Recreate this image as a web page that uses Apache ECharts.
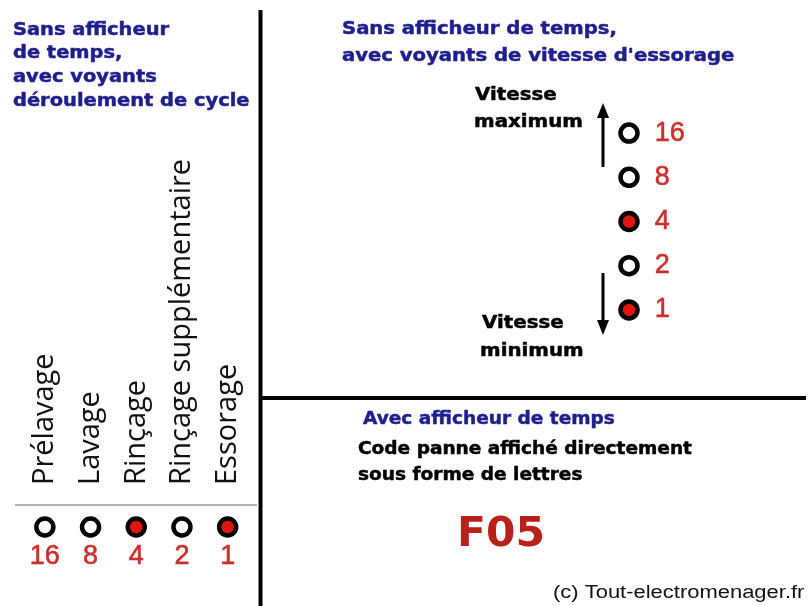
<!DOCTYPE html>
<html>
<head>
<meta charset="utf-8">
<script src="https://cdn.jsdelivr.net/npm/echarts@6/dist/echarts.min.js"></script>
<style>
  html, body { margin: 0; padding: 0; background: #fff; }
  #chart { width: 811px; height: 606px; }
</style>
</head>
<body>
<div id="chart"></div>
<script>
// voyants déroulement de cycle (colonne de gauche)
var cycleSteps = ["Prélavage", "Lavage", "Rinçage", "Rinçage supplémentaire", "Essorage"];
var cycleValues = [16, 8, 4, 2, 1];
var cycleLit = [0, 0, 1, 0, 1];

// voyants vitesse d'essorage (de bas en haut)
var speedValues = [1, 2, 4, 8, 16];
var speedLit = [1, 0, 1, 0, 0];

var faultCode = "F05";

var blue = "#1e1e8e";
var red = "#c9302c";
var bold = "bold 18px 'DejaVu Sans'";

function ledData(values, lit, horizontal) {
  return values.map(function (v, i) {
    return {
      value: horizontal ? [i, 1] : [1, i],
      label: { formatter: String(v) },
      itemStyle: {
        color: lit[i] ? "#e2150f" : "#ffffff",
        borderColor: "#000",
        borderWidth: 4.5,
        opacity: 1
      }
    };
  });
}

function txt(x, y, text, font, fill, sx, align, thick) {
  return {
    type: "text",
    x: x,
    y: y,
    scaleX: sx || 1,
    style: {
      text: text,
      font: font,
      fill: fill,
      stroke: thick ? fill : null,
      lineWidth: thick || 0,
      textAlign: align || "left",
      align: align || "left",
      textVerticalAlign: "middle",
      verticalAlign: "middle"
    }
  };
}

function line(x1, y1, x2, y2, color, w) {
  return {
    type: "line",
    shape: { x1: x1, y1: y1, x2: x2, y2: y2 },
    style: { stroke: color, lineWidth: w }
  };
}

var chart = echarts.init(document.getElementById("chart"));

var option = {
  backgroundColor: "#fff",
  animation: false,
  grid: [
    { left: 22, top: 505, width: 228.5, height: 44 },
    { left: 609, top: 111, width: 40, height: 221 }
  ],
  xAxis: [
    {
      gridIndex: 0,
      type: "category",
      position: "top",
      data: cycleSteps,
      axisLine: { show: false },
      axisTick: { show: false },
      axisLabel: {
        rotate: 90,
        interval: 0,
        margin: 20,
        color: "#111",
        fontFamily: "Open Sans",
        fontSize: 29
      }
    },
    { gridIndex: 1, type: "value", min: 0, max: 2, show: false }
  ],
  yAxis: [
    { gridIndex: 0, type: "value", min: 0, max: 2, show: false },
    { gridIndex: 1, type: "category", data: speedValues.map(String), show: false }
  ],
  series: [
    {
      type: "scatter",
      xAxisIndex: 0,
      yAxisIndex: 0,
      symbolSize: 17,
      data: ledData(cycleValues, cycleLit, true),
      label: {
        show: true,
        position: "bottom",
        distance: 5,
        color: red,
        fontFamily: "Liberation Sans",
        fontSize: 27,
        textBorderColor: red,
        textBorderWidth: 0.6
      }
    },
    {
      type: "scatter",
      xAxisIndex: 1,
      yAxisIndex: 1,
      symbolSize: 17,
      data: ledData(speedValues, speedLit, false),
      label: {
        show: true,
        position: "right",
        distance: 15,
        color: red,
        fontFamily: "Liberation Sans",
        fontSize: 27,
        textBorderColor: red,
        textBorderWidth: 0.6
      }
    }
  ],
  graphic: [
    // séparateurs
    line(260.5, 10, 260.5, 606, "#000", 4),
    line(262, 398, 806, 398, "#000", 4),
    line(15, 505, 257, 505, "#999", 1.5),

    // titre gauche
    txt(13, 30, "Sans afficheur", bold, blue, 1.08, null, 0.5),
    txt(13, 53, "de temps,", bold, blue, 1.08, null, 0.5),
    txt(13, 77, "avec voyants", bold, blue, 1.08, null, 0.5),
    txt(13, 101, "déroulement de cycle", bold, blue, 1.08, null, 0.5),

    // titre droit
    txt(342, 29, "Sans afficheur de temps,", bold, blue, 1.09, null, 0.5),
    txt(342, 56, "avec voyants de vitesse d'essorage", bold, blue, 1.09, null, 0.5),

    txt(475, 95, "Vitesse", bold, "#000", 1.1, null, 0.5),
    txt(474, 122, "maximum", bold, "#000", 1.1, null, 0.5),
    txt(482, 323, "Vitesse", bold, "#000", 1.1, null, 0.5),
    txt(480, 351, "minimum", bold, "#000", 1.1, null, 0.5),

    // flèches
    line(603, 115, 603, 167, "#000", 3),
    { type: "polygon", shape: { points: [[603, 103], [597, 118], [609, 118]] }, style: { fill: "#000" } },
    line(603, 273, 603, 322, "#000", 3),
    { type: "polygon", shape: { points: [[603, 335], [597, 320], [609, 320]] }, style: { fill: "#000" } },

    // afficheur de temps
    txt(363, 419, "Avec afficheur de temps", bold, blue, 1.03, null, 0.5),
    txt(358, 449, "Code panne affiché directement", bold, "#000", 1.03, null, 0.5),
    txt(358, 475, "sous forme de lettres", bold, "#000", 1.03, null, 0.5),
    txt(501, 536, faultCode, "bold 40px 'DejaVu Sans'", "#b8201a", 1.06, "center"),

    txt(553, 593, "(c) Tout-electromenager.fr", "18px 'Liberation Sans'", "#111", 1.22)
  ]
};

chart.setOption(option);
</script>
</body>
</html>
